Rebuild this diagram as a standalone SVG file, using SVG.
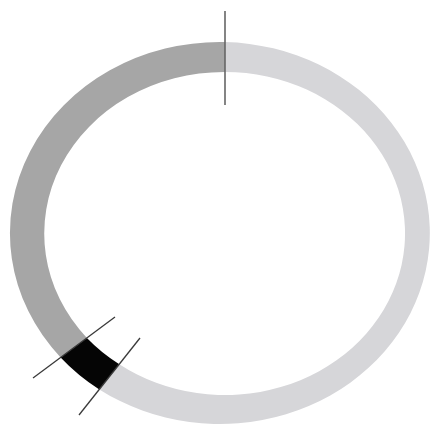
<svg xmlns="http://www.w3.org/2000/svg" width="438" height="425" viewBox="0 0 438 425">
<style>
.dark{fill:#a6a6a6}
.light{fill:#d6d6d9}
.blk{fill:#050505}
.tick{stroke:#3a3a3a;stroke-width:1.3;fill:none}
.vline{stroke:#666;stroke-width:1.6;fill:none}
</style>
<rect width="438" height="425" fill="#fff"/>
<g id="ring">
<path id="seg-dark" class="dark" d="M 225 42.05 A 210 191 0 0 0 60.6 357.4 L 86.9 337.9 A 180 161.5 0 0 1 225 72 Z"/>
<path id="seg-light" class="light" d="M 99.3 389.4 A 210 191 0 1 0 225 42.05 L 225 72 A 180 161.5 0 1 1 119.3 364.2 Z"/>
<path id="seg-black" class="blk" d="M 60.6 357.4 A 210 191 0 0 0 99.3 389.4 L 119.3 364.2 A 180 161.5 0 0 1 86.9 337.9 Z"/>
</g>
<g id="marks">
<line class="vline" x1="225" y1="11" x2="225" y2="105"/>
<line class="tick" x1="33" y1="378" x2="115" y2="317"/>
<line class="tick" x1="79" y1="415" x2="140" y2="338"/>
</g>
</svg>
